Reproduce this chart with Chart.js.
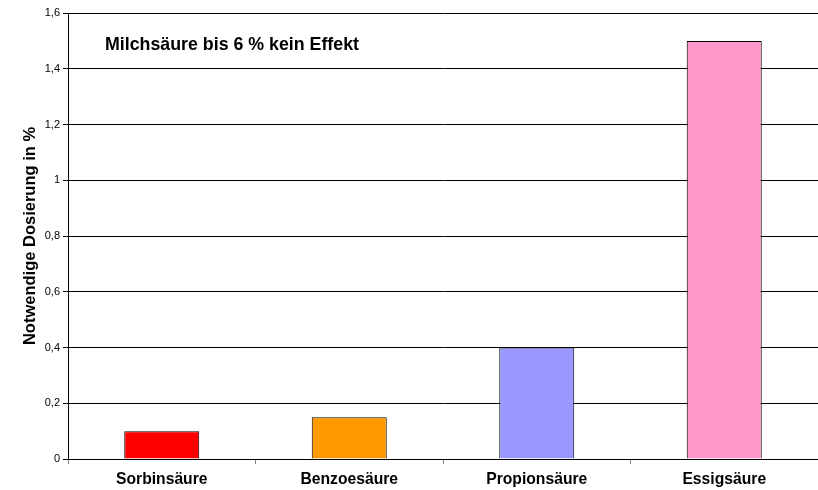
<!DOCTYPE html>
<html>
<head>
<meta charset="utf-8">
<script src="https://cdn.jsdelivr.net/npm/chart.js@4"></script>
<style>
  html, body { margin: 0; padding: 0; background: #fff; }
  #wrap { width: 818px; height: 490px; }
</style>
</head>
<body>
<div id="wrap"><canvas id="doseChart" width="818" height="490"></canvas></div>
<script>
// Kategorien und Werte (notwendige Dosierung in %)
const categories = ["Sorbinsäure", "Benzoesäure", "Propionsäure", "Essigsäure"];
const doseValues = [0.1, 0.15, 0.4, 1.5];
const barColors = ["#FF0000", "#FF9900", "#9999FF", "#FF99CC"];
const yTicks = [0, 0.2, 0.4, 0.6, 0.8, 1, 1.2, 1.4, 1.6];
const noteText = "Milchsäure bis 6 % kein Effekt";
const yTitle = "Notwendige Dosierung in %";

const fontFamily = "'Liberation Sans', Arial, sans-serif";

// Hinweistext oben links im Diagramm
const notePlugin = {
    id: "note",
    afterDraw(chart) {
        const ctx = chart.ctx;
        const area = chart.chartArea;
        ctx.save();
        ctx.font = "bold 17.8px " + fontFamily;
        ctx.fillStyle = "#000";
        ctx.textBaseline = "middle";
        ctx.fillText(noteText, area.left + 37, area.top + 32);
        ctx.restore();
    }
};

const ctx = document.getElementById("doseChart").getContext("2d");
new Chart(ctx, {
    type: "bar",
    data: {
        labels: categories,
        datasets: [{
            data: doseValues,
            backgroundColor: barColors,
            borderColor: "#000",
            borderWidth: 1,
            categoryPercentage: 1,
            barPercentage: 0.4
        }]
    },
    options: {
        responsive: false,
        animation: false,
        layout: { padding: { top: 13, right: 0, left: 0, bottom: 0 } },
        plugins: {
            legend: { display: false },
            tooltip: { enabled: false }
        },
        scales: {
            x: {
                grid: {
                    drawOnChartArea: false,
                    drawTicks: true,
                    tickLength: 5,
                    color: "#808080",
                    offset: true
                },
                border: { color: "#000", width: 1 },
                ticks: {
                    color: "#000",
                    padding: 6,
                    font: { family: fontFamily, size: 15.7, weight: "bold" }
                },
                afterFit(scale) { scale.height = 31; }
            },
            y: {
                min: 0,
                max: 1.6,
                afterBuildTicks(scale) {
                    scale.ticks = yTicks.map(v => ({ value: v }));
                },
                grid: {
                    color: "#000",
                    tickLength: 5
                },
                border: { color: "#000", width: 1 },
                ticks: {
                    color: "#000",
                    padding: 3,
                    font: { family: fontFamily, size: 11 },
                    callback: v => String(v).replace(".", ",")
                },
                title: {
                    display: true,
                    text: yTitle,
                    color: "#000",
                    padding: { top: 21, bottom: 0 },
                    font: { family: fontFamily, size: 16.5, weight: "bold" }
                },
                afterFit(scale) { scale.width = 68; }
            }
        }
    },
    plugins: [notePlugin]
});
</script>
</body>
</html>
